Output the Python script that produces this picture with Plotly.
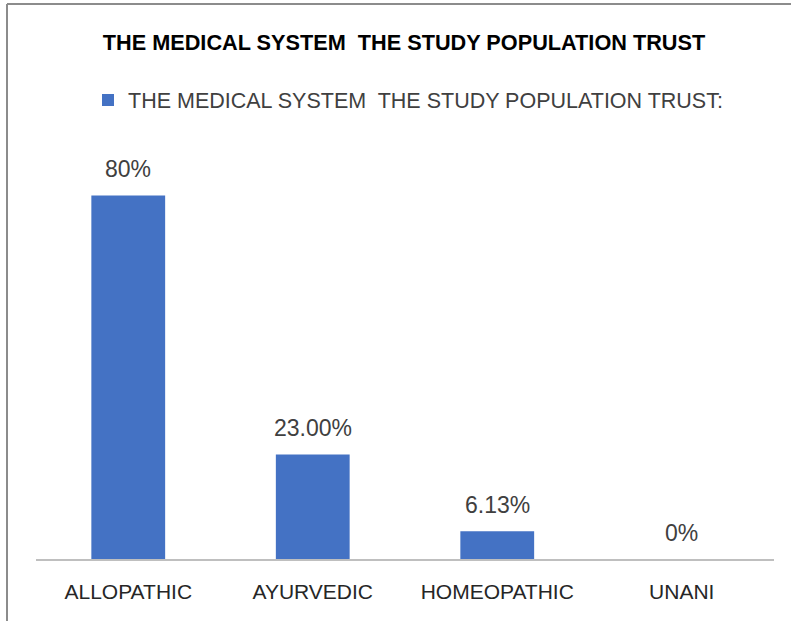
import plotly.graph_objects as go

categories = ["ALLOPATHIC", "AYURVEDIC", "HOMEOPATHIC", "UNANI"]
values = [80, 23.00, 6.13, 0]
value_labels = ["80%", "23.00%", "6.13%", "0%"]
series_name = "THE MEDICAL SYSTEM  THE STUDY POPULATION TRUST:"
title_text = "THE MEDICAL SYSTEM  THE STUDY POPULATION TRUST"

W, H = 791, 621
L, R, T, B = 36, 17, 150, 62
pw, ph = W - L - R, H - T - B

def px_x(x):
    return (x - L) / pw

def px_y(y):
    return (H - B - y) / ph

font_fam = "Liberation Sans, Arial, sans-serif"

fig = go.Figure()
fig.add_trace(go.Bar(
    x=categories, y=values, name=series_name,
    marker=dict(color="#4472C4", line=dict(width=0)),
    cliponaxis=False, showlegend=True,
))

for c, v, t in zip(categories, values, value_labels):
    fig.add_annotation(x=c, y=v, text=t, showarrow=False, xanchor="center",
                       yanchor="middle", yshift=26,
                       font=dict(family=font_fam, size=23, color="#404040"))

fig.update_layout(
    width=W, height=H,
    margin=dict(l=L, r=R, t=T, b=B, autoexpand=False),
    paper_bgcolor="white", plot_bgcolor="white",
    bargap=0.6,
    title=dict(text="<b>" + title_text + "</b>", xref="container", x=404 / W, xanchor="center",
               y=1 - 42 / H, yanchor="middle",
               font=dict(family=font_fam, size=21.7, color="#000000")),
    legend=dict(orientation="h", x=px_x(88), xanchor="left", y=px_y(100), yanchor="middle",
                font=dict(family=font_fam, size=21.5, color="#404040"),
                bgcolor="rgba(0,0,0,0)"),
    xaxis=dict(showline=True, linecolor="#BFBFBF", linewidth=2, ticks="",
               tickangle=0, automargin=False, ticklabelstandoff=13,
               tickfont=dict(family=font_fam, size=21, color="#262626"),
               showgrid=False, zeroline=False),
    yaxis=dict(range=[0, 90], visible=False, showgrid=False, zeroline=False),
    shapes=[
        dict(type="line", xref="paper", yref="paper", x0=px_x(7), x1=px_x(W + 5),
             y0=px_y(4), y1=px_y(4), line=dict(color="#8C8C8C", width=2)),
        dict(type="line", xref="paper", yref="paper", x0=px_x(7), x1=px_x(7),
             y0=px_y(4), y1=px_y(H + 5), line=dict(color="#8C8C8C", width=2)),
    ],
)

fig.write_html("out.html", config={"displayModeBar": False},
               post_script="document.body.style.margin='0';document.body.style.overflow='hidden';")
